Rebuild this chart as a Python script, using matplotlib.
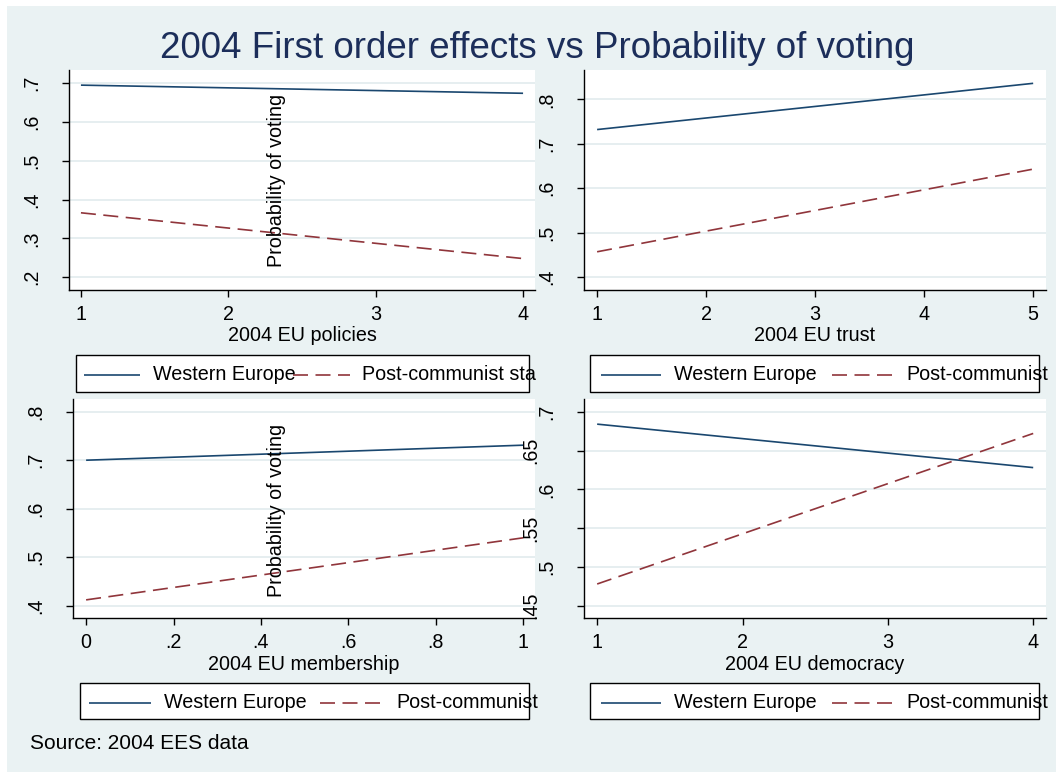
"""
Four Stata-style panels: first order effects vs probability of voting (2004 EES).
"""

import matplotlib
matplotlib.use('Agg')
from matplotlib import pyplot as plt
from matplotlib.patches import Rectangle
from matplotlib.lines import Line2D

# ---- data ----
x_policies  = [1, 4]
we_policies = [0.695, 0.674]
pc_policies = [0.366, 0.248]

x_trust  = [1, 5]
we_trust = [0.732, 0.836]
pc_trust = [0.457, 0.643]

x_member  = [0, 1]
we_member = [0.700, 0.731]
pc_member = [0.412, 0.540]

x_democ  = [1, 4]
we_democ = [0.684, 0.628]
pc_democ = [0.478, 0.672]

xt_policies = [1, 2, 3, 4]
xt_trust    = [1, 2, 3, 4, 5]
xt_member   = [0, 0.2, 0.4, 0.6, 0.8, 1]
xl_member   = ['0', '.2', '.4', '.6', '.8', '1']
xt_democ    = [1, 2, 3, 4]

yt_policies = [0.2, 0.3, 0.4, 0.5, 0.6, 0.7]
yt_trust    = [0.4, 0.5, 0.6, 0.7, 0.8]
yt_member   = [0.4, 0.5, 0.6, 0.7, 0.8]
yt_democ    = [0.5, 0.6, 0.7]
yt_democ_alt = [0.45, 0.55, 0.65]

# legend texts as they show in each (too narrow) legend box
leg_we   = 'Western Europe'
leg_pc_a = 'Post-communist sta'
leg_pc_b = 'Post-communist'

xtitles = ['2004 EU policies', '2004 EU trust', '2004 EU membership', '2004 EU democracy']
title = '2004 First order effects vs Probability of voting'
ytitle = 'Probability of voting'
note = 'Source: 2004 EES data'

# ---- styling ----
W, H = 1056, 772
BG     = '#EAF2F3'
GRID   = '#E6EEF0'
NAVY   = '#1A476F'
MAROON = '#90353B'
TITLEC = '#1C2E5A'
FS = 14.2

plt.rcParams['font.family'] = ['Liberation Sans', 'DejaVu Sans']


def fx(x):
  return x / W

def fy(y):
  return 1 - y / H


def ytick_label(v):
  s = ('%g' % v)
  return s[1:] if s.startswith('0.') else s


def panel(fig, box, xlim, ylim, x, we, pc, xticks, xlabels, yticks, xtitle, alt=None):
  """
  box : (left, top, right, bottom) in image pixels
  """
  l, t, r, b = box
  ax = fig.add_axes([fx(l), fy(b), fx(r - l), (b - t) / H])
  ax.set_facecolor('white')
  for s in ['top', 'right']:
    ax.spines[s].set_visible(False)
  for s in ['left', 'bottom']:
    ax.spines[s].set_color('black')
    ax.spines[s].set_linewidth(1.0)

  ax.plot(x, we, color=NAVY, lw=1.2, solid_capstyle='butt', zorder=3)
  ax.plot(x, pc, color=MAROON, lw=1.2, dashes=(9.0, 4.5), zorder=3)

  ax.set_xlim(*xlim)
  ax.set_ylim(*ylim)
  ax.set_xticks(xticks, xlabels)
  ax.set_yticks(yticks, [ytick_label(v) for v in yticks], rotation=90, va='center')
  if alt is not None:
    ax.set_yticks(alt, [ytick_label(v) for v in alt], minor=True, rotation=90, va='center')
    ax.tick_params(axis='y', which='minor', pad=26.5)
  ax.yaxis.grid(True, which='both', color=GRID, lw=1.4)
  ax.set_axisbelow(True)

  ax.tick_params(axis='both', which='both', direction='out', length=5, width=1.0,
                 color='black', labelsize=FS)
  ax.tick_params(axis='y', which='major', pad=14.8)
  ax.tick_params(axis='x', pad=5.5)
  ax.set_xlabel(xtitle, fontsize=FS, labelpad=2.0)
  return ax


def legend(fig, box, key1, tx1, key2, tx2, label2):
  """
  hand-made Stata legend, positions in image pixels
  """
  l, t, r, b = box
  fig.add_artist(Rectangle((fx(l), fy(b)), fx(r - l), (b - t) / H, transform=fig.transFigure,
                           facecolor='white', edgecolor='black', lw=1.0))
  yc = (t + b) / 2 + 1.5
  fig.add_artist(Line2D([fx(key1[0]), fx(key1[1])], [fy(yc), fy(yc)], transform=fig.transFigure,
                        color=NAVY, lw=1.2, solid_capstyle='butt'))
  fig.add_artist(Line2D([fx(key2[0]), fx(key2[1])], [fy(yc), fy(yc)], transform=fig.transFigure,
                        color=MAROON, lw=1.2, dashes=(9.0, 4.5)))
  fig.text(fx(tx1), fy(yc), leg_we, fontsize=FS, ha='left', va='center')
  fig.text(fx(tx2), fy(yc), label2, fontsize=FS, ha='left', va='center')


fig = plt.figure(figsize=(W / 100, H / 100), dpi=100, facecolor='white')
fig.add_artist(Rectangle((fx(7), 0), 1 - fx(7), 1 - 6 / H, transform=fig.transFigure,
                         facecolor=BG, edgecolor='none', zorder=-10))

# top left
panel(fig, (69, 70, 535, 290), (0.919, 4.081), (0.167, 0.734),
      x_policies, we_policies, pc_policies, xt_policies, [str(v) for v in xt_policies],
      yt_policies, xtitles[0])
legend(fig, (76, 355, 529, 392), (84, 139.5), 153, (292.7, 349.6), 361.6, leg_pc_a)
fig.text(fx(276.5), fy(180), ytitle, rotation=90, fontsize=FS, ha='center', va='center')

# top right
panel(fig, (583.7, 70, 1045.7, 290), (0.877, 5.115), (0.371, 0.866),
      x_trust, we_trust, pc_trust, xt_trust, [str(v) for v in xt_trust],
      yt_trust, xtitles[1])
legend(fig, (590.4, 355, 1039.3, 392), (600.5, 660.8), 674.3, (832, 892), 906.4, leg_pc_b)

# bottom left
panel(fig, (73, 399.3, 535, 618.3), (-0.030, 1.027), (0.374, 0.8256),
      x_member, we_member, pc_member, xt_member, xl_member,
      yt_member, xtitles[2])
legend(fig, (80, 683, 529, 719), (89, 150.5), 164.3, (320.3, 382.3), 396, leg_pc_b)
fig.text(fx(276.5), fy(510), ytitle, rotation=90, fontsize=FS, ha='center', va='center')

# bottom right
panel(fig, (583.5, 399.3, 1045.7, 618.3), (0.906, 4.086), (0.4338, 0.716),
      x_democ, we_democ, pc_democ, xt_democ, [str(v) for v in xt_democ],
      yt_democ, xtitles[3], alt=yt_democ_alt)
legend(fig, (590.4, 683, 1039.3, 719), (600.5, 660.8), 674.3, (832, 892), 906.4, leg_pc_b)

# title and note
fig.text(fx(537.5), fy(58.3), title, fontsize=26.5, color=TITLEC, ha='center', va='baseline')
fig.text(fx(30), fy(749), note, fontsize=15, ha='left', va='baseline')

fig.savefig('out.png', dpi=100, facecolor='white')
